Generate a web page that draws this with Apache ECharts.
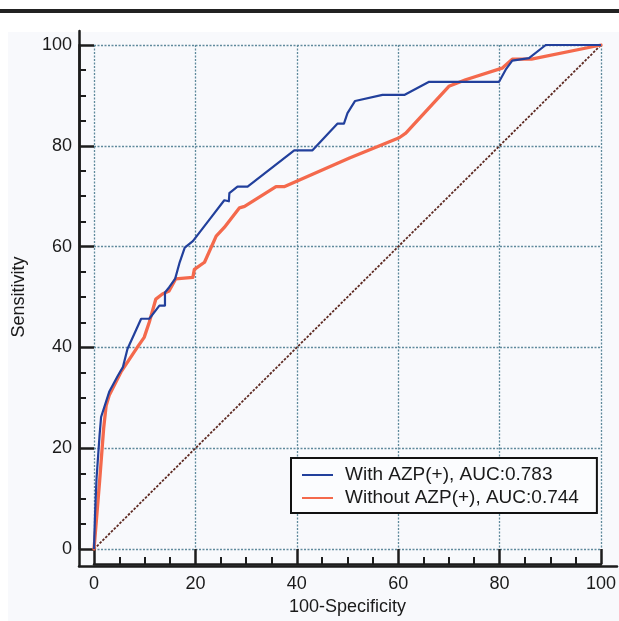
<!DOCTYPE html>
<html>
<head>
<meta charset="utf-8">
<script src="https://cdn.jsdelivr.net/npm/echarts@6/dist/echarts.min.js"></script>
<style>
html,body{margin:0;padding:0;background:#ffffff;}
#chart{width:619px;height:621px;}
</style>
</head>
<body>
<div id="chart"></div>
<script>
// Data (x = 100-Specificity, y = Sensitivity)
const withAZP = [
  [0,0],[0.2,6.8],[0.5,14],[1.1,22.6],[1.4,26.2],[3.0,31.2],[4.7,34.4],[5.7,36.1],[6.6,39.7],
  [9.3,45.7],[10.9,45.7],[12.9,48.3],[14.0,48.3],[14.0,50.9],[14.8,51.9],[16.0,53.6],[16.9,56.9],
  [17.9,59.8],[19.5,61.1],[22.8,65.4],[25.7,69.2],[26.6,69.0],[26.7,70.6],[28.3,71.9],[30.3,71.9],
  [39.5,79.1],[43.1,79.1],[48.0,84.4],[49.3,84.4],[50.0,86.5],[51.5,88.9],[56.9,90.1],[61.2,90.1],
  [66.1,92.7],[79.9,92.7],[81.2,95.1],[82.5,96.9],[85.8,97.4],[89.1,100],[100,100]
];
const withoutAZP = [
  [0,0],[1.1,13.4],[1.9,23.9],[2.4,28.5],[3.0,30.5],[5.3,35.1],[7.0,37.7],[8.6,40.1],[9.9,42],
  [10.9,45],[12.2,49.6],[13.5,50.6],[14.8,51.2],[16.1,53.6],[19.5,53.9],[19.8,55.5],[21.8,56.9],
  [24.1,62.1],[25.7,63.8],[28.7,67.7],[29.7,68.0],[35.9,71.9],[37.5,71.9],[50.4,77.6],[60.2,81.6],
  [61.5,82.5],[70.0,91.8],[73.3,93.1],[80.5,95.4],[82.5,97.2],[86.3,97.2],[100,100]
];
const reference = [[0,0],[100,100]];
const seriesNames = ['With AZP(+), AUC:0.783', 'Without AZP(+), AUC:0.744'];
const xTitle = '100-Specificity';
const yTitle = 'Sensitivity';

const chart = echarts.init(document.getElementById('chart'), null, {renderer:'canvas'});
const FONT = 'Liberation Sans, Arial, sans-serif';
const axisColor = '#1c1c1c';
const gridColor = '#5f8a9c';

function mainAxis(isX){
  return {
    type:'value', min:0, max:100, interval:20, gridIndex:0,
    offset:15,
    name: isX ? xTitle : yTitle,
    nameLocation:'middle',
    nameGap: isX ? 33 : 51,
    nameTextStyle:{fontFamily:FONT, fontSize:18, color:'#1a1a1a'},
    axisLine:{show:true, onZero:false, lineStyle:{color:axisColor, width:2.5}},
    axisTick:{show:true, inside:true, length:15, lineStyle:{color:axisColor, width:2.5}},
    minorTick:{show:true, splitNumber:4, length:7, lineStyle:{color:axisColor, width:2}},
    axisLabel:{fontFamily:FONT, fontSize:18, color:'#1a1a1a', margin: isX ? 11 : 7},
    splitLine:{show:true, lineStyle:{color:gridColor, width:1.3, type:[2,1.5]}},
    minorSplitLine:{show:false}
  };
}
function frameAxis(){
  return {
    type:'value', min:0, max:1, gridIndex:1,
    axisLine:{show:true, onZero:false, lineStyle:{color:axisColor, width:2.5}},
    axisTick:{show:false}, axisLabel:{show:false}, splitLine:{show:false}
  };
}

chart.setOption({
  animation:false,
  backgroundColor:'#ffffff',
  graphic:[
    {type:'rect', z:-100, silent:true, shape:{x:8, y:32, width:611, height:589}, style:{fill:'#f8f9fc'}},
    {type:'rect', z:-100, silent:true, shape:{x:0, y:9, width:619, height:4}, style:{fill:'#222222'}}
  ],
  grid:[
    {left:94, top:45, width:508, height:506, containLabel:false},
    {left:79, top:31, right:2, bottom:55, containLabel:false}
  ],
  xAxis:[mainAxis(true), frameAxis()],
  yAxis:[mainAxis(false), frameAxis()],
  legend:{
    show:true,
    data:seriesNames,
    orient:'vertical',
    left:291, top:458,
    padding:[7,18,5,11],
    itemWidth:31, itemHeight:2, itemGap:3,
    icon:'rect',
    borderColor:'#111111', borderWidth:2,
    backgroundColor:'#fbfcfe',
    textStyle:{fontFamily:FONT, fontSize:19, color:'#1a1a1a', lineHeight:20, padding:[0,0,0,7]}
  },
  series:[
    {
      name:'reference', type:'line', data:reference, xAxisIndex:0, yAxisIndex:0,
      showSymbol:false, symbol:'none', silent:true, z:1,
      lineStyle:{color:'#5e2a22', width:1.8, type:[2.5,1.5]}
    },
    {
      name:seriesNames[1], type:'line', data:withoutAZP, xAxisIndex:0, yAxisIndex:0,
      symbol:'none', color:'#f4694c', z:3,
      lineStyle:{color:'#f4694c', width:3.3, join:'round', cap:'round'}
    },
    {
      name:seriesNames[0], type:'line', data:withAZP, xAxisIndex:0, yAxisIndex:0,
      symbol:'none', color:'#22409c', z:4,
      lineStyle:{color:'#22409c', width:2.2, join:'round'}
    }
  ]
});
</script>
</body>
</html>
